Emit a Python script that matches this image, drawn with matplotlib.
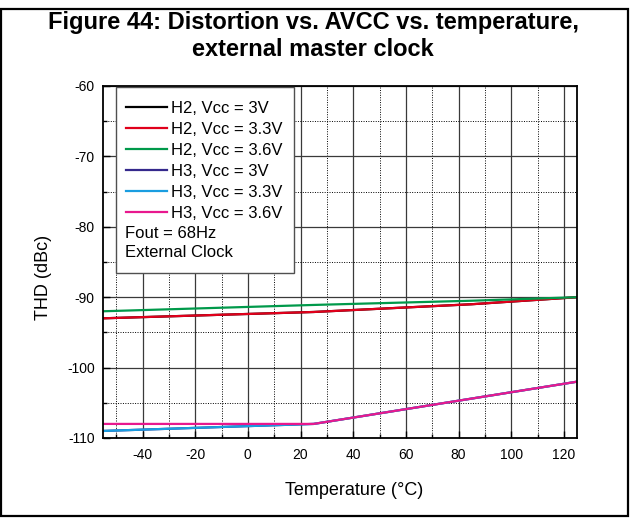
import matplotlib
matplotlib.use("Agg")
import matplotlib.pyplot as plt
from matplotlib.patches import Rectangle
from matplotlib.ticker import MultipleLocator

plt.rcParams['font.family'] = ['Liberation Sans', 'DejaVu Sans']
plt.rcParams['axes.unicode_minus'] = False

# Temperature breakpoints (°C) and THD (dBc)
temp_h2 = [-55, 25, 85, 125]
h2_3v0 = [-93.0, -92.1, -91.0, -90.0]
h2_3v3 = [-93.0, -92.1, -91.0, -90.0]
h2_3v6 = [-92.0, -91.1, -90.5, -90.0]

temp_h3 = [-55, 25, 125]
h3_3v0 = [-109.0, -108.0, -102.0]
h3_3v3 = [-109.0, -108.0, -102.0]
h3_3v6 = [-108.0, -108.0, -102.0]

series = [
    (temp_h2, h2_3v0, "H2, Vcc = 3V", "#000000"),
    (temp_h2, h2_3v3, "H2, Vcc = 3.3V", "#e0001b"),
    (temp_h2, h2_3v6, "H2, Vcc = 3.6V", "#00994a"),
    (temp_h3, h3_3v0, "H3, Vcc = 3V", "#35298c"),
    (temp_h3, h3_3v3, "H3, Vcc = 3.3V", "#1a9de0"),
    (temp_h3, h3_3v6, "H3, Vcc = 3.6V", "#e8188e"),
]

fig = plt.figure(figsize=(6.3, 5.18), dpi=100)
ax = fig.add_axes([103 / 630, 1 - 438 / 518, 474 / 630, 352 / 518])

# outer frame of the figure
fig.patches.append(Rectangle((1 / 630, 2 / 518), 627 / 630, 507 / 518,
                             transform=fig.transFigure, fill=False,
                             edgecolor="black", linewidth=1.6))

fig.text(0.497, 1 - 22 / 518, "Figure 44: Distortion vs. AVCC vs. temperature,",
         ha="center", va="center", fontsize=17, fontweight="bold")
fig.text(0.497, 1 - 50 / 518, "external master clock",
         ha="center", va="center", fontsize=17, fontweight="bold")

for x, y, label, color in series:
    ax.plot(x, y, color=color, linewidth=1.6, label=label)

ax.set_xlim(-55, 125)
ax.set_ylim(-110, -60)
ax.xaxis.set_major_locator(MultipleLocator(20))
ax.xaxis.set_minor_locator(MultipleLocator(10))
ax.yaxis.set_major_locator(MultipleLocator(10))
ax.yaxis.set_minor_locator(MultipleLocator(5))

ax.grid(True, which="major", color="#3a3a3a", linewidth=0.9)
ax.grid(True, which="minor", color="black", linestyle=(0, (1, 1.5)), linewidth=0.7)
ax.set_axisbelow(True)

ax.tick_params(which="both", direction="in", labelsize=10, width=1.0)
ax.tick_params(which="major", length=5)
ax.tick_params(which="minor", length=3)
ax.tick_params(axis="x", pad=7)
ax.tick_params(axis="y", pad=6)
for sp in ax.spines.values():
    sp.set_linewidth(1.3)

ax.set_xlabel("Temperature (°C)", fontsize=13)
ax.xaxis.set_label_coords(0.53, -0.125)
ax.set_ylabel("THD (dBc)", fontsize=13)
ax.yaxis.set_label_coords(-0.107, 0.455)

# legend box with two extra note lines
ax.add_patch(Rectangle((0.027, 0.469), 0.376, 0.528, transform=ax.transAxes,
                       facecolor="white", edgecolor="#505050", linewidth=1.0,
                       zorder=4))
leg = ax.legend(loc="upper left", bbox_to_anchor=(0.019, 0.997), frameon=False,
                fontsize=12, handlelength=2.45, handletextpad=0.25,
                labelspacing=0.36, borderaxespad=0, borderpad=0.85)
leg.set_zorder(5)
ax.text(0.047, 1 - (233 - 86) / 352, "Fout = 68Hz", transform=ax.transAxes,
        fontsize=12, va="center", ha="left", zorder=6)
ax.text(0.047, 1 - (253 - 86) / 352, "External Clock", transform=ax.transAxes,
        fontsize=12, va="center", ha="left", zorder=6)

fig.savefig("out.png", dpi=100)
